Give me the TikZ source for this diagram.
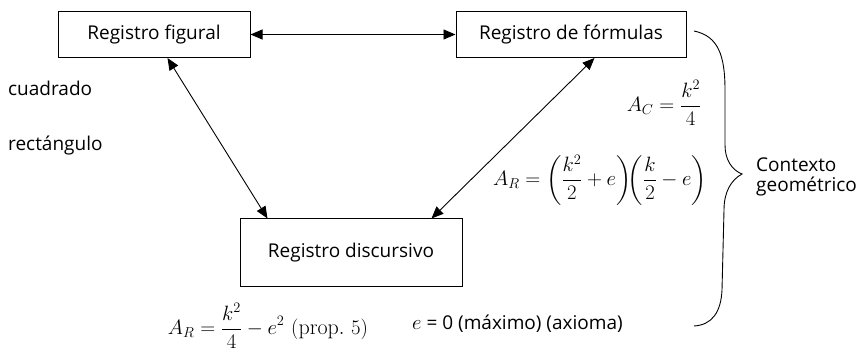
\documentclass[tikz,border=0pt]{standalone}
\usepackage{amsmath}
\usepackage{fontspec}
\setsansfont{Open Sans}
\usetikzlibrary{arrows.meta}
\begin{document}
\begin{tikzpicture}[x=1pt,y=-1pt,
  regbox/.style={draw, line width=1pt, inner sep=0pt, font=\sffamily\fontsize{19}{22}\selectfont},
  lbl/.style={font=\sffamily\fontsize{19}{22}\selectfont, inner sep=0pt},
  mth/.style={font=\fontsize{22}{26}\selectfont, inner sep=0pt},
  conn/.style={line width=0.9pt, {Triangle[length=12pt,width=10pt]}-{Triangle[length=12pt,width=10pt]}}]
\useasboundingbox (0,0) rectangle (862,358);
\node[regbox, minimum width=192pt, minimum height=46pt] (fig) at (154,34.5) {Registro figural};
\node[regbox, minimum width=230pt, minimum height=46pt] (form) at (571,34.5) {Registro de fórmulas};
\node[regbox, minimum width=222pt, minimum height=67pt] (disc) at (351,252.5) {Registro discursivo};
\draw[conn] (fig.east) -- (form.west);
\draw[conn] ([xshift=110pt]fig.south west) -- ([xshift=28pt]disc.north west);
\draw[conn] ([xshift=139pt]form.south west) -- ([xshift=192pt]disc.north west);
\node[lbl, anchor=west] (cuad) at (8,88) {cuadrado};
\node[lbl, anchor=west] (rect) at (8,146) {rectángulo};
\node[mth] (ac) at (664,103) {$\displaystyle A_C=\frac{k^2}{4}$};
\node[mth] (ar) at (600,180) {$\displaystyle A_R=\left(\frac{k^2}{2}+e\right)\!\!\left(\frac{k}{2}-e\right)$};
\node[mth] (ar2) at (268,326) {$\displaystyle A_R=\frac{k^2}{4}-e^2\ (\mathrm{prop.}\ 5)$};
\node[lbl, anchor=west] (eq) at (412,324) {{\fontsize{22}{26}\selectfont$e$} = 0 (máximo) (axioma)};
\node[lbl, anchor=west, align=left] (ctx) at (756,177) {Contexto\\[-2pt]geométrico};
\draw[line width=0.9pt] (694,31) .. controls (718,36) and (725,55) .. (725,90)
  -- (725,145) .. controls (725,160) and (732,170) .. (742,174)
  .. controls (731,180) and (724,192) .. (724,210)
  -- (722,290) .. controls (721,312) and (712,325) .. (694,326);
\end{tikzpicture}
\end{document}
